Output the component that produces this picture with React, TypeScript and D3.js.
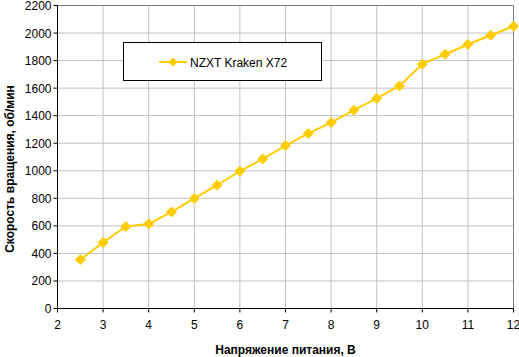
import React from "react";
import * as d3 from "d3";

const voltages = [2.5, 3, 3.5, 4, 4.5, 5, 5.5, 6, 6.5, 7, 7.5, 8, 8.5, 9, 9.5, 10, 10.5, 11, 11.5, 12];
const rpm = [355, 479, 595, 614, 701, 799, 895, 997, 1086, 1183, 1271, 1350, 1440, 1525, 1616, 1774, 1846, 1917, 1984, 2050];
const xTicks = [2, 3, 4, 5, 6, 7, 8, 9, 10, 11, 12];
const yTicks = [0, 200, 400, 600, 800, 1000, 1200, 1400, 1600, 1800, 2000, 2200];
const seriesName = "NZXT Kraken X72";
const xTitle = "Напряжение питания, В";
const yTitle = "Скорость вращения, об/мин";

const W = 519, H = 357;
const L = 57.5, R = 513.5, T = 5.5, B = 308.5;
const COLOR = "#FFCC00";
const FONT = "Arial, 'Liberation Sans', sans-serif";

export default function App() {
  const x = d3.scaleLinear().domain([2, 12]).range([L, R]);
  const y = d3.scaleLinear().domain([0, 2200]).range([B, T]);
  const pts = voltages.map((v, i) => [x(v), y(rpm[i])] as [number, number]);
  const line = d3.line()(pts) || "";
  const diamond = (cx: number, cy: number, r = 5) =>
    `M${cx},${cy - r}L${cx + r},${cy}L${cx},${cy + r}L${cx - r},${cy}Z`;

  return (
    <svg width={W} height={H} style={{ position: "absolute", left: 0, top: 0 }}>
      <rect x={0} y={0} width={W} height={H} fill="#fff" />
      {xTicks.map((t) => (
        <line key={"gx" + t} x1={x(t)} x2={x(t)} y1={T} y2={B} stroke="#c0c0c0" strokeWidth={1} />
      ))}
      {yTicks.map((t) => (
        <line key={"gy" + t} x1={L} x2={R} y1={y(t)} y2={y(t)} stroke="#c0c0c0" strokeWidth={1} />
      ))}
      <line x1={L} x2={R} y1={T} y2={T} stroke="#808080" />
      <line x1={R} x2={R} y1={T} y2={B} stroke="#808080" />
      <line x1={L} x2={L} y1={T} y2={B} stroke="#000" />
      <line x1={L} x2={R} y1={B} y2={B} stroke="#000" />
      {yTicks.map((t) => (
        <g key={"yt" + t}>
          <line x1={L - 4} x2={L} y1={y(t)} y2={y(t)} stroke="#000" />
          <text x={L - 6} y={y(t) + 4.5} textAnchor="end" fontFamily={FONT} fontSize={12} fill="#000">
            {t}
          </text>
        </g>
      ))}
      {xTicks.map((t) => (
        <g key={"xt" + t}>
          <line x1={x(t)} x2={x(t)} y1={B} y2={B + 4} stroke="#000" />
          <text x={x(t)} y={B + 20} textAnchor="middle" fontFamily={FONT} fontSize={12} fill="#000">
            {t}
          </text>
        </g>
      ))}
      <path d={line} fill="none" stroke={COLOR} strokeWidth={2} />
      {pts.map(([px, py], i) => (
        <path key={"m" + i} d={diamond(px, py)} fill={COLOR} stroke={COLOR} strokeWidth={1} />
      ))}
      <text x={(L + R) / 2} y={354} textAnchor="middle" fontFamily={FONT} fontSize={12} fontWeight="bold">
        {xTitle}
      </text>
      <text
        transform={`translate(14,${(T + B) / 2 + 12}) rotate(-90)`}
        textAnchor="middle"
        fontFamily={FONT}
        fontSize={12}
        fontWeight="bold"
      >
        {yTitle}
      </text>
      <rect x={123.5} y={42.5} width={198} height={38} fill="#fff" stroke="#000" />
      <line x1={159} x2={187} y1={62} y2={62} stroke={COLOR} strokeWidth={2} />
      <path d={diamond(173, 62, 4)} fill={COLOR} stroke={COLOR} />
      <text x={190} y={66.5} fontFamily={FONT} fontSize={12} fill="#000">
        {seriesName}
      </text>
    </svg>
  );
}
